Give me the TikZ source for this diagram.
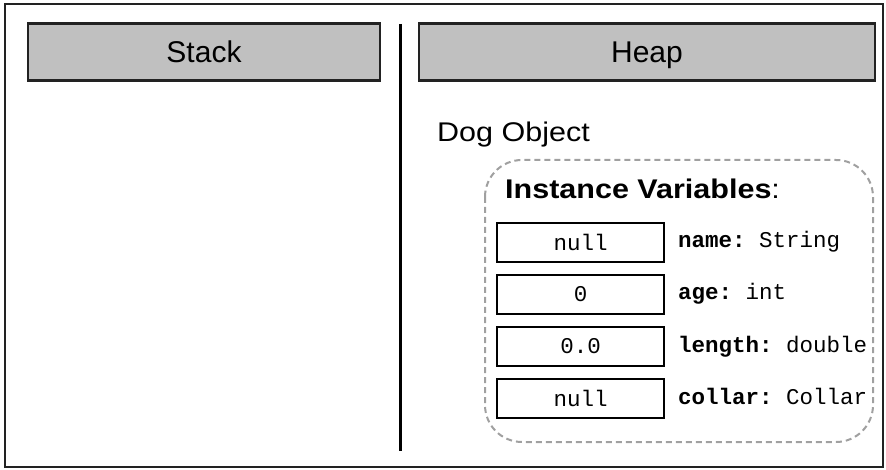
\documentclass[tikz,border=0pt]{standalone}
\usepackage{fontspec}
\setmainfont{Liberation Sans}
\newfontfamily\widesans{Liberation Sans}[FakeStretch=1.13]
\setmonofont{Liberation Mono}
\definecolor{hdrgray}{HTML}{C0C0C0}
\definecolor{hdrline}{HTML}{222222}
\definecolor{dashgray}{HTML}{A0A0A0}
\begin{document}
\begin{tikzpicture}[x=1pt,y=-1pt,
  header/.style={draw=hdrline, line width=2.2pt, fill=hdrgray, inner sep=0pt, minimum height=57pt, text height=21.5pt, text depth=0pt, font=\fontsize{30}{36}\selectfont},
  valbox/.style={draw=black, line width=2pt, inner sep=0pt, minimum width=167pt, minimum height=39pt, font=\ttfamily\fontsize{22.5}{26}\selectfont},
  fieldlbl/.style={anchor=base west, inner sep=0pt, font=\ttfamily\fontsize{22.5}{26}\selectfont},
  title/.style={anchor=base west, inner sep=0pt, font=\widesans\fontsize{27}{30}\selectfont}]
\useasboundingbox (0,0) rectangle (886,470);
% outer frame
\draw[line width=2pt, draw=hdrline] (5,4) rectangle (883,467);
% headers
\node[header, minimum width=352pt] (stack) at (204,52) {Stack};
\node[header, minimum width=456pt] (heap) at (647,52) {Heap};
% divider
\coordinate (divtop) at (400,24);
\coordinate (divbot) at (400,451);
\draw[line width=3pt] (divtop) -- (divbot);
% Dog object
\node[title] (dog) at (437,142) {Dog Object};
% instance variables container
\draw[dashgray, line width=2pt, dash pattern=on 6pt off 4pt, rounded corners=37pt] (485,160) rectangle (873,442);
\node[title] (iv) at (505,199) {\textbf{Instance Variables}:};
% value boxes
\node[valbox] (v1) at (580.5,242.5) {null};
\node[valbox] (v2) at (580.5,294.5) {0};
\node[valbox] (v3) at (580.5,346.5) {0.0};
\node[valbox] (v4) at (580.5,398.5) {null};
% labels
\node[fieldlbl] (l1) at (678,248) {\textbf{name:} String};
\node[fieldlbl] (l2) at (678,300) {\textbf{age:} int};
\node[fieldlbl] (l3) at (678,352) {\textbf{length:} double};
\node[fieldlbl] (l4) at (678,404) {\textbf{collar:} Collar};
\end{tikzpicture}
\end{document}
